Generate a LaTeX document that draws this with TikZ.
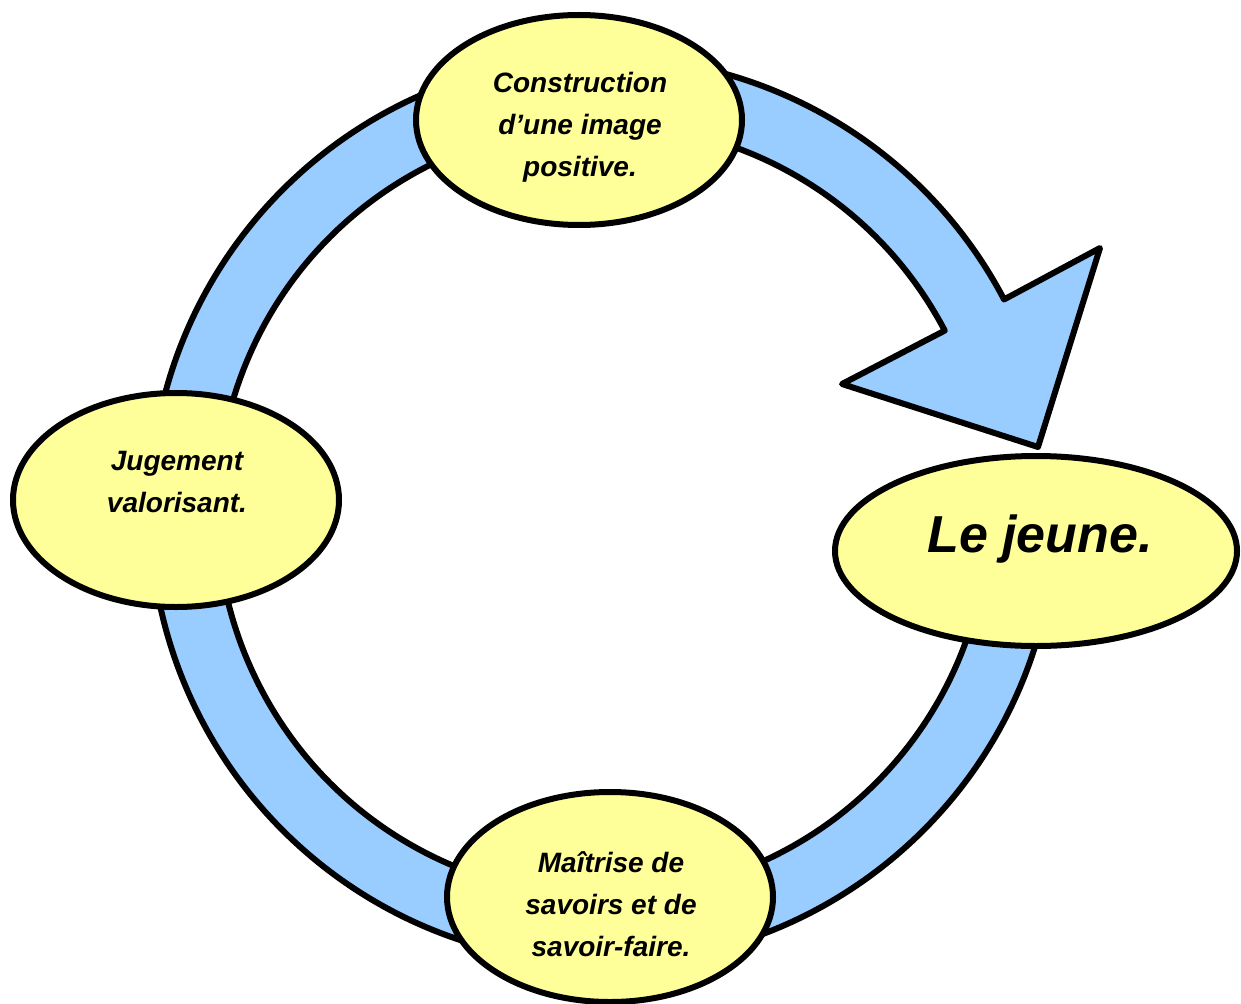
\documentclass[tikz,border=0pt]{standalone}
\usepackage{fontspec}
\setmainfont{Liberation Sans}
\usetikzlibrary{shapes.geometric,calc}
\definecolor{ringblue}{HTML}{99CCFF}
\definecolor{bubble}{HTML}{FFFF99}
\begin{document}
\begin{tikzpicture}[x=1pt,y=-1pt,
  ring/.style={draw=black, fill=ringblue, line width=6pt, line join=round},
  bubblenode/.style={ellipse, draw=black, fill=bubble, line width=6pt, inner sep=0pt},
  smalltxt/.style={font=\fontsize{28}{42}\selectfont\bfseries\itshape, align=center, anchor=base, inner sep=0pt},
  bigtxt/.style={font=\fontsize{52}{60}\selectfont\bfseries\itshape, anchor=base, inner sep=0pt}]
\useasboundingbox (0,0) rectangle (1241,1003);
\coordinate (c) at (603,510);
\coordinate (barbout) at (1100,248);
\coordinate (tip) at (1038,447);
\coordinate (barbin) at (842,384);
% circular arrow
\draw[ring] ($(c)+(0:453)$) arc[start angle=0, end angle=332.3, radius=453]
  -- (barbout) -- (tip) -- (barbin)
  -- ($(c)+(332.3:386)$) arc[start angle=332.3, end angle=0, radius=386] -- cycle;
% bubbles
\node[bubblenode, minimum width=326pt, minimum height=210pt] (top) at (579,120) {};
\node[bubblenode, minimum width=326pt, minimum height=214pt] (left) at (176,500) {};
\node[bubblenode, minimum width=326pt, minimum height=210pt] (bottom) at (610,897) {};
\node[bubblenode, minimum width=402pt, minimum height=190pt] (right) at (1036,551) {};
% texts (base anchor = baseline of last line)
\node[smalltxt] (ttop) at (580,177) {Construction\\d’une image\\positive.};
\node[smalltxt] (tleft) at (177,512) {Jugement\\valorisant.};
\node[smalltxt] (tbottom) at (611,956) {Maîtrise de\\savoirs et de\\savoir-faire.};
\node[bigtxt] (tright) at (1040,552) {Le jeune.};
\end{tikzpicture}
\end{document}
